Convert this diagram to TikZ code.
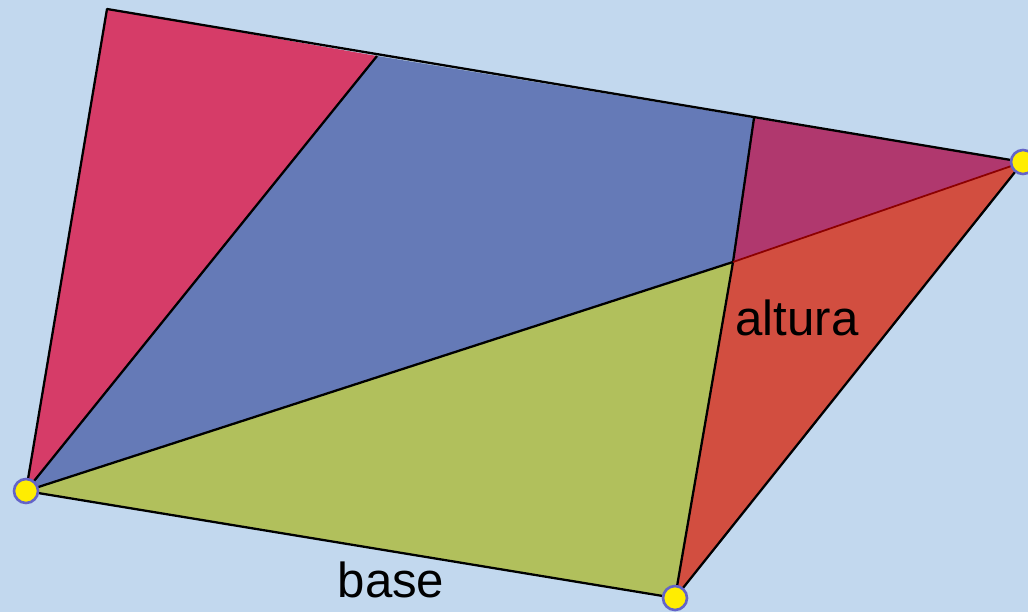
\documentclass[tikz,border=0pt]{standalone}
\usepackage{fontspec}
\setmainfont{Liberation Sans}
\usepackage{tikz}

\definecolor{bgblue}{HTML}{C2D8EE}
\definecolor{pinkA}{HTML}{D63C68}
\definecolor{blueA}{HTML}{657AB7}
\definecolor{greenA}{HTML}{B1C05C}
\definecolor{redA}{HTML}{D24E40}
\definecolor{purpleA}{HTML}{B0386E}
\definecolor{dotedge}{HTML}{6464C8}

\tikzset{
	edge/.style={black, line width=1.3pt, line join=round},
	vertex/.style={fill=yellow!95!orange, draw=dotedge, line width=1.5pt},
	label/.style={font=\fontsize{28}{30}\selectfont, text=black}
}

\begin{document}
\begin{tikzpicture}[x=0.02cm, y=-0.02cm]
	\fill[bgblue] (0,0) rectangle (1028,612);
	\useasboundingbox (0,0) rectangle (1028,612);
	% corners of the trapezoid and inner points
	\coordinate (A) at (26,491);
	\coordinate (B) at (675,598);
	\coordinate (C) at (1023,162);
	\coordinate (D) at (107,9);
	\coordinate (F) at (377,56);
	\coordinate (E) at (754,118);
	\coordinate (G) at (733,262);
	% coloured pieces
	\fill[pinkA] (A) -- (D) -- (F) -- cycle;
	\fill[blueA] (A) -- (F) -- (E) -- (G) -- cycle;
	\fill[purpleA] (E) -- (C) -- (G) -- cycle;
	\fill[greenA] (A) -- (G) -- (B) -- cycle;
	\fill[redA] (G) -- (C) -- (B) -- cycle;
	% outlines
	\draw[edge] (A) -- (B) -- (C) -- (D) -- cycle;
	\draw[edge] (A) -- (F); \draw[edge] (E) -- (G) -- (B);
	\draw[edge] (A) -- (G); \draw[red!55!black, line width=1pt] (G) -- (C);
	\node[label] (alt) at (797,318) {altura};
	\node[label] (bas) at (391,580) {base};
	\foreach \p in {A,B,C} {\draw[vertex] (\p) circle (12);}
\end{tikzpicture}
\end{document}
